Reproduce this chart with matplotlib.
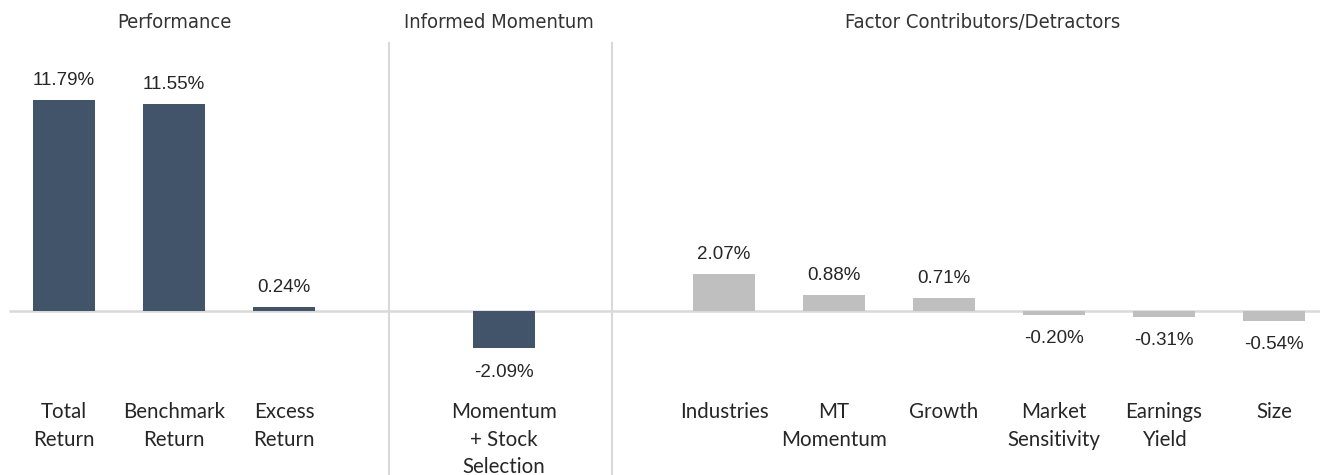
import matplotlib
matplotlib.use("Agg")
import matplotlib.pyplot as plt
from matplotlib.transforms import blended_transform_factory

# slot positions (gaps at 3 and 5 separate the three panels)
positions = [0, 1, 2, 4, 6, 7, 8, 9, 10, 11]
labels = ["Total\nReturn", "Benchmark\nReturn", "Excess\nReturn",
          "Momentum\n+ Stock\nSelection",
          "Industries", "MT\nMomentum", "Growth", "Market\nSensitivity",
          "Earnings\nYield", "Size"]
values = [11.79, 11.55, 0.24, -2.09, 2.07, 0.88, 0.71, -0.20, -0.31, -0.54]
groups = ["perf", "perf", "perf", "mom", "fac", "fac", "fac", "fac", "fac", "fac"]

titles = ["Performance", "Informed Momentum", "Factor Contributors/Detractors"]
title_x = [1.0, 3.95, 8.35]
separators = [2.95, 4.98]

DARK = "#42546a"
GREY = "#bfbfbf"
TEXT = "#262626"
colors = [GREY if g == "fac" else DARK for g in groups]

fig = plt.figure(figsize=(13.2, 4.75), dpi=100)
ax = fig.add_axes([0, 0, 1, 1])
ax.set_xlim(-0.582, 11.418)
ax.set_ylim(-9.16, 17.37)
ax.axis("off")

ax.bar(positions, values, width=0.56, color=colors, zorder=2)

# zero line
ax.plot([-0.5, 11.5], [0, 0], color="#d9d9d9", lw=1.8, zorder=1,
        solid_capstyle="butt")
ax.set_xlim(-0.582, 11.418)

trans = blended_transform_factory(ax.transData, ax.transAxes)
for s in separators:
    ax.plot([s, s], [0, 0.909], transform=trans, color="#d9d9d9", lw=1.5,
            zorder=1)

for x, v in zip(positions, values):
    if v >= 0:
        ax.annotate(f"{v:.2f}%", (x, v), xytext=(0, 8), textcoords="offset points",
                    ha="center", va="bottom", fontsize=13.5, color=TEXT,
                    family="Liberation Sans")
    else:
        ax.annotate(f"{v:.2f}%", (x, v), xytext=(0, -11), textcoords="offset points",
                    ha="center", va="top", fontsize=13.5, color=TEXT,
                    family="Liberation Sans")

# category labels, one text per line so the line pitch is exact
line_y = [410, 438, 465]
for x, lab in zip(positions, labels):
    for k, line in enumerate(lab.split("\n")):
        ax.text(x, 1 - line_y[k] / 475, line, transform=trans, ha="center",
                va="center_baseline", fontsize=14.8, color=TEXT, family="Lato")

for x, t in zip(title_x, titles):
    ax.text(x, 1 - 22 / 475, t, transform=trans, ha="center", va="center",
            fontsize=14.5, color="#333333", family="DejaVu Sans",
            fontstretch="condensed")

fig.savefig("out.png", dpi=100)
